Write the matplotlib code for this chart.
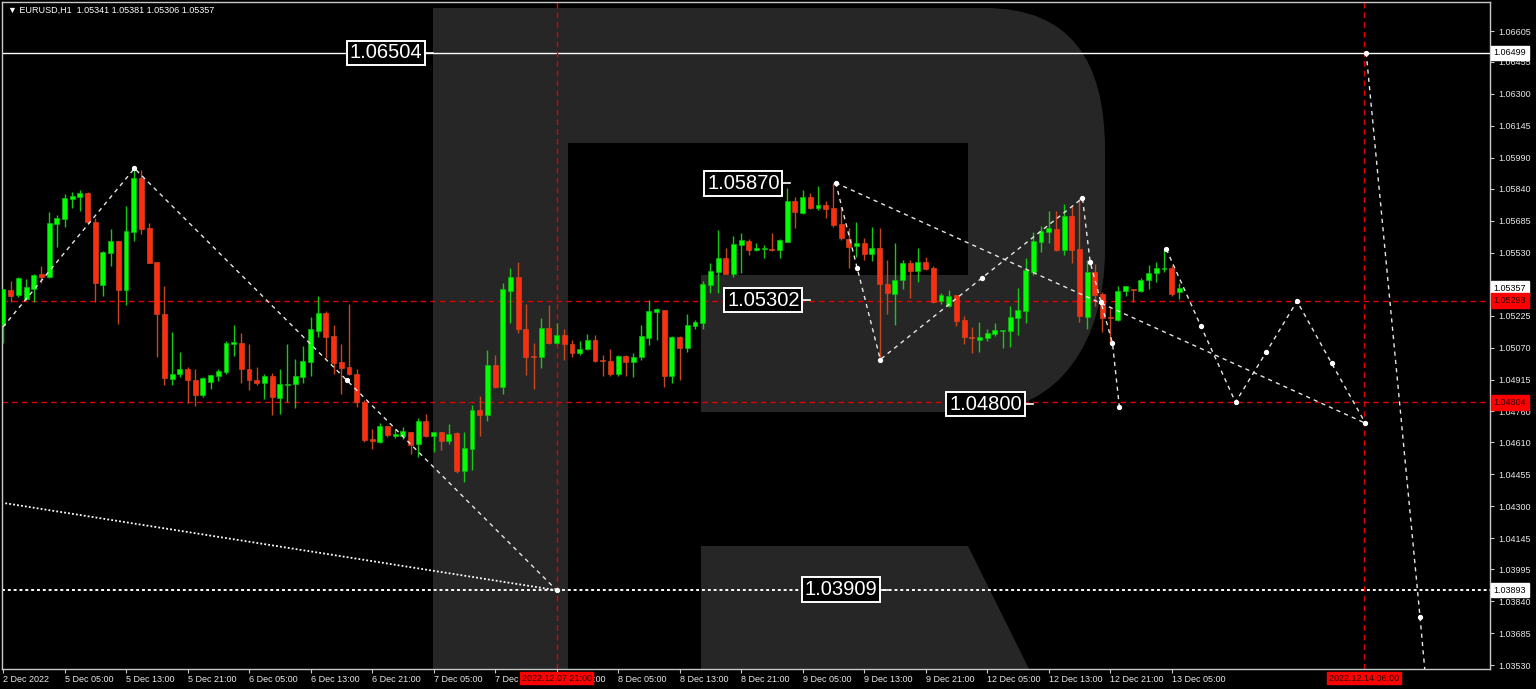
import matplotlib
matplotlib.use("Agg")
import numpy as np
import matplotlib.pyplot as plt
from matplotlib.patches import Polygon, PathPatch
from matplotlib.path import Path

# ---------------- data: EURUSD H1, bar 0 = 2 Dec 2022 21:00 ----------------
opens = [
    1.05179, 1.05348, 1.05327, 1.05305, 1.05352, 1.05426, 1.05413, 1.05669, 1.05693, 1.05790,
    1.05801, 1.05822, 1.05680, 1.05373, 1.05529, 1.05586, 1.05348, 1.05631, 1.05890, 1.05648,
    1.05486, 1.05235, 1.04917, 1.04941, 1.04964, 1.04915, 1.04839, 1.04904, 1.04931, 1.04951,
    1.05088, 1.05093, 1.04965, 1.04915, 1.04896, 1.04931, 1.04823, 1.04888, 1.04891, 1.04928,
    1.05001, 1.05151, 1.05240, 1.05125, 1.04998, 1.04976, 1.04944, 1.04807, 1.04626, 1.04613,
    1.04689, 1.04643, 1.04640, 1.04660, 1.04600, 1.04715, 1.04642, 1.04660, 1.04618, 1.04656,
    1.04472, 1.04580, 1.04766, 1.04744, 1.04985, 1.04880, 1.05345, 1.05410, 1.05159, 1.05028,
    1.05025, 1.05167, 1.05093, 1.05129, 1.05086, 1.05046, 1.05061, 1.05106, 1.05009, 1.05004,
    1.04944, 1.05028, 1.04998, 1.05022, 1.05117, 1.05243, 1.05251, 1.04931, 1.05119, 1.05069,
    1.05175, 1.05187, 1.05373, 1.05437, 1.05505, 1.05425, 1.05567, 1.05588, 1.05542, 1.05546,
    1.05549, 1.05542, 1.05583, 1.05780, 1.05725, 1.05800, 1.05749, 1.05761, 1.05748, 1.05667,
    1.05596, 1.05565, 1.05575, 1.05526, 1.05554, 1.05376, 1.05332, 1.05397, 1.05481, 1.05441,
    1.05486, 1.05457, 1.05297, 1.05272, 1.05324, 1.05203, 1.05122, 1.05109, 1.05117, 1.05135,
    1.05150, 1.05151, 1.05211, 1.05248, 1.05437, 1.05580, 1.05631, 1.05643, 1.05542, 1.05707,
    1.05547, 1.05219, 1.05437, 1.05332, 1.05216, 1.05206, 1.05344, 1.05355, 1.05345, 1.05400,
    1.05434, 1.05449, 1.05454, 1.05341,
]
highs = [
    1.05352, 1.05392, 1.05413, 1.05402, 1.05426, 1.05466, 1.05728, 1.05715, 1.05817, 1.05825,
    1.05833, 1.05825, 1.05696, 1.05538, 1.05644, 1.05588, 1.05756, 1.05939, 1.05931, 1.05675,
    1.05486, 1.05369, 1.05146, 1.05049, 1.04976, 1.04964, 1.04925, 1.04939, 1.04968, 1.05103,
    1.05179, 1.05141, 1.05085, 1.04976, 1.04941, 1.04947, 1.04968, 1.05086, 1.05014, 1.05077,
    1.05216, 1.05319, 1.05247, 1.05179, 1.05085, 1.05280, 1.04964, 1.04815, 1.04677, 1.04705,
    1.04689, 1.04677, 1.04686, 1.04661, 1.04729, 1.04750, 1.04660, 1.04661, 1.04698, 1.04661,
    1.04661, 1.04791, 1.04834, 1.05057, 1.05033, 1.05384, 1.05458, 1.05484, 1.05281, 1.05093,
    1.05211, 1.05276, 1.05190, 1.05158, 1.05109, 1.05103, 1.05135, 1.05133, 1.05033, 1.05062,
    1.05036, 1.05033, 1.05046, 1.05179, 1.05300, 1.05264, 1.05254, 1.05125, 1.05125, 1.05232,
    1.05203, 1.05394, 1.05481, 1.05639, 1.05551, 1.05610, 1.05627, 1.05596, 1.05578, 1.05567,
    1.05627, 1.05596, 1.05846, 1.05798, 1.05833, 1.05821, 1.05854, 1.05782, 1.05869, 1.05753,
    1.05649, 1.05678, 1.05602, 1.05656, 1.05648, 1.05497, 1.05575, 1.05497, 1.05497, 1.05551,
    1.05507, 1.05466, 1.05335, 1.05348, 1.05327, 1.05222, 1.05171, 1.05192, 1.05158, 1.05187,
    1.05154, 1.05271, 1.05360, 1.05502, 1.05631, 1.05659, 1.05733, 1.05732, 1.05766, 1.05756,
    1.05793, 1.05494, 1.05475, 1.05340, 1.05260, 1.05368, 1.05368, 1.05355, 1.05408, 1.05470,
    1.05486, 1.05542, 1.05470, 1.05381,
]
lows = [
    1.05093, 1.05292, 1.05316, 1.05300, 1.05292, 1.05381, 1.05405, 1.05559, 1.05656, 1.05745,
    1.05732, 1.05669, 1.05292, 1.05321, 1.05466, 1.05183, 1.05276, 1.05588, 1.05623, 1.05478,
    1.05025, 1.04888, 1.04888, 1.04928, 1.04799, 1.04786, 1.04831, 1.04868, 1.04907, 1.04941,
    1.05030, 1.04899, 1.04866, 1.04886, 1.04820, 1.04745, 1.04750, 1.04807, 1.04779, 1.04900,
    1.04933, 1.05119, 1.05017, 1.04944, 1.04844, 1.04936, 1.04782, 1.04613, 1.04576, 1.04605,
    1.04634, 1.04629, 1.04626, 1.04553, 1.04540, 1.04637, 1.04564, 1.04572, 1.04601, 1.04462,
    1.04419, 1.04475, 1.04642, 1.04713, 1.04876, 1.04844, 1.05190, 1.05142, 1.04936, 1.04867,
    1.04973, 1.05086, 1.05086, 1.05009, 1.05025, 1.05033, 1.05057, 1.05002, 1.04931, 1.04931,
    1.04933, 1.04931, 1.04928, 1.05009, 1.05082, 1.05106, 1.04880, 1.04896, 1.04915, 1.05049,
    1.05162, 1.05162, 1.05337, 1.05337, 1.05425, 1.05413, 1.05434, 1.05518, 1.05539, 1.05505,
    1.05539, 1.05505, 1.05580, 1.05652, 1.05720, 1.05743, 1.05736, 1.05696, 1.05656, 1.05594,
    1.05454, 1.05510, 1.05494, 1.05491, 1.05009, 1.05235, 1.05179, 1.05353, 1.05311, 1.05386,
    1.05445, 1.05287, 1.05279, 1.05268, 1.05175, 1.05085, 1.05044, 1.05049, 1.05103, 1.05125,
    1.05069, 1.05074, 1.05133, 1.05187, 1.05424, 1.05534, 1.05575, 1.05538, 1.05518, 1.05481,
    1.05195, 1.05162, 1.05271, 1.05146, 1.05090, 1.05200, 1.05319, 1.05292, 1.05340, 1.05356,
    1.05389, 1.05437, 1.05319, 1.05306,
]
closes = [
    1.05352, 1.05321, 1.05408, 1.05365, 1.05424, 1.05411, 1.05675, 1.05696, 1.05795, 1.05804,
    1.05822, 1.05680, 1.05381, 1.05534, 1.05586, 1.05348, 1.05635, 1.05893, 1.05644, 1.05481,
    1.05235, 1.04920, 1.04944, 1.04964, 1.04915, 1.04839, 1.04920, 1.04936, 1.04957, 1.05093,
    1.05095, 1.04965, 1.04915, 1.04896, 1.04931, 1.04828, 1.04891, 1.04892, 1.04931, 1.05004,
    1.05159, 1.05240, 1.05119, 1.04996, 1.04973, 1.04941, 1.04807, 1.04621, 1.04618, 1.04689,
    1.04645, 1.04650, 1.04665, 1.04597, 1.04715, 1.04642, 1.04660, 1.04618, 1.04650, 1.04472,
    1.04585, 1.04766, 1.04744, 1.04985, 1.04880, 1.05353, 1.05410, 1.05159, 1.05025, 1.05025,
    1.05167, 1.05090, 1.05129, 1.05086, 1.05044, 1.05061, 1.05106, 1.05006, 1.05006, 1.04944,
    1.05028, 1.04998, 1.05022, 1.05125, 1.05247, 1.05256, 1.04931, 1.05119, 1.05069, 1.05179,
    1.05192, 1.05378, 1.05442, 1.05505, 1.05426, 1.05570, 1.05591, 1.05542, 1.05555, 1.05551,
    1.05542, 1.05594, 1.05782, 1.05728, 1.05800, 1.05748, 1.05761, 1.05743, 1.05664, 1.05599,
    1.05559, 1.05575, 1.05523, 1.05554, 1.05376, 1.05337, 1.05400, 1.05481, 1.05441, 1.05486,
    1.05453, 1.05292, 1.05327, 1.05321, 1.05198, 1.05122, 1.05116, 1.05122, 1.05141, 1.05154,
    1.05154, 1.05216, 1.05251, 1.05445, 1.05586, 1.05635, 1.05651, 1.05542, 1.05707, 1.05542,
    1.05224, 1.05437, 1.05327, 1.05211, 1.05211, 1.05345, 1.05368, 1.05350, 1.05400, 1.05434,
    1.05458, 1.05454, 1.05332, 1.05357,
]

time_ticks = list(range(0, 153, 8))
time_labels = [
    "2 Dec 2022", "5 Dec 05:00", "5 Dec 13:00", "5 Dec 21:00", "6 Dec 05:00",
    "6 Dec 13:00", "6 Dec 21:00", "7 Dec 05:00", "7 Dec 13:00", "7 Dec 21:00",
    "8 Dec 05:00", "8 Dec 13:00", "8 Dec 21:00", "9 Dec 05:00", "9 Dec 13:00",
    "9 Dec 21:00", "12 Dec 05:00", "12 Dec 13:00", "12 Dec 21:00", "13 Dec 05:00",
]
price_ticks = [1.06605, 1.06455, 1.06300, 1.06145, 1.05990, 1.05840, 1.05685, 1.05530,
               1.05375, 1.05225, 1.05070, 1.04915, 1.04760, 1.04610, 1.04455, 1.04300,
               1.04145, 1.03995, 1.03840, 1.03685, 1.03530]

# forecast paths (bar index, price)
wave_left_x = [0.0, 17.1, 44.7, 72.0]
wave_left_y = [1.05170, 1.05939, 1.04912, 1.03893]
trend_left_x = [0.3, 72.0]
trend_left_y = [1.04315, 1.03893]
trend_right_x = [108.3, 177.2]
trend_right_y = [1.05869, 1.04703]
wave_mid_x = [108.3, 111.1, 114.1, 127.3, 140.4, 141.4, 142.8, 144.3, 145.2]
wave_mid_y = [1.05869, 1.05455, 1.05012, 1.05407, 1.05795, 1.05484, 1.05290, 1.05091, 1.04781]
wave_fc_x = [151.3, 155.8, 160.3, 164.3, 168.3, 172.8, 177.2]
wave_fc_y = [1.05547, 1.05174, 1.04805, 1.05048, 1.05295, 1.04994, 1.04703]
drop_x = [177.3, 184.3, 185.3]
drop_y = [1.06499, 1.03763, 1.03350]

# level labels: text, right edge bar, price
level_text = ["1.06504", "1.05870", "1.05302", "1.04800", "1.03909"]
level_bar = [54.5, 101.0, 103.6, 132.5, 113.7]
level_price = [1.06499, 1.05867, 1.05300, 1.04796, 1.03896]

hlines_red = [1.05298, 1.04804]
vlines_red = [72, 177]

# ---------------- figure ----------------
W, H = 1536, 689
fig = plt.figure(figsize=(W / 100, H / 100), dpi=100, facecolor="black")
ax = fig.add_axes([2 / W, 20 / H, 1488 / W, 667 / H])
ax.set_facecolor("black")
ax.set_xlim(-0.13, 193.4)
ax.set_ylim(1.03511, 1.06746)

small = ["Liberation Sans", "DejaVu Sans"]
big = ["Liberation Sans", "DejaVu Sans"]


def fpx(pts):
    return [(x / W, 1 - y / H) for x, y in pts]


# watermark "R"
wm = "#262626"
stem = Polygon(fpx([(433, 8), (568, 8), (568, 669), (433, 669)]), closed=True,
               transform=fig.transFigure, fc=wm, ec="none", zorder=0.5)
leg = Polygon(fpx([(701, 546), (968, 546), (1029, 669), (701, 669)]), closed=True,
              transform=fig.transFigure, fc=wm, ec="none", zorder=0.5)
bowl_v = fpx([(568, 8), (985, 8), (1070, 8), (1105, 60), (1105, 150), (1105, 250),
              (1105, 340), (1060, 412), (975, 412), (701, 412), (701, 275), (968, 275),
              (968, 143), (568, 143), (568, 8)])
bowl_c = [Path.MOVETO, Path.LINETO, Path.CURVE4, Path.CURVE4, Path.CURVE4, Path.LINETO,
          Path.CURVE4, Path.CURVE4, Path.CURVE4, Path.LINETO, Path.LINETO, Path.LINETO,
          Path.LINETO, Path.LINETO, Path.CLOSEPOLY]
bowl = PathPatch(Path(bowl_v, bowl_c), transform=fig.transFigure, fc=wm, ec="none", zorder=0.5)
for p in (stem, leg, bowl):
    ax.add_patch(p)
    p.set_clip_path(ax.patch)

# levels
ax.axhline(1.06499, color="white", lw=1, zorder=2)
ax.axhline(1.03893, color="white", lw=1.4, ls=(0, (1.5, 1.5)), zorder=2)
for p in hlines_red:
    ax.axhline(p, color="#e00000", lw=1, ls=(0, (4, 3)), zorder=2)
for b in vlines_red:
    ax.axvline(b, color="#e00000", lw=1, ls=(0, (4, 3)), zorder=2)

# candles
o = np.array(opens); h = np.array(highs); l = np.array(lows); c = np.array(closes)
x = np.arange(len(o))
up = c >= o
ax.vlines(x[up], l[up], h[up], color="#14c814", lw=1, zorder=3)
ax.vlines(x[~up], l[~up], h[~up], color="#c8461e", lw=1, zorder=3)
body = np.maximum(np.abs(c - o), 0.00003)
ax.bar(x[up], body[up], bottom=np.minimum(o, c)[up], width=0.64,
       color="#00ff00", edgecolor="#10b810", lw=0.5, zorder=4)
ax.bar(x[~up], body[~up], bottom=np.minimum(o, c)[~up], width=0.64,
       color="#ff2d0f", edgecolor="#c8461e", lw=0.5, zorder=4)

# forecast lines
dash = dict(color="#e6e6e6", lw=1, ls=(0, (3, 3)), zorder=5)
ax.plot(wave_left_x, wave_left_y, **dash)
ax.plot(trend_left_x, trend_left_y, color="white", lw=1.3, ls=(0, (1, 1.2)), zorder=5)
ax.plot(trend_right_x, trend_right_y, **dash)
ax.plot(wave_mid_x, wave_mid_y, **dash)
ax.plot(wave_fc_x, wave_fc_y, **dash)
ax.plot(drop_x, drop_y, **dash)
mk = dict(ls="none", marker="o", ms=2.8, color="white", zorder=6)
ax.plot(wave_left_x[1:], wave_left_y[1:], **mk)
ax.plot(wave_mid_x, wave_mid_y, **mk)
ax.plot(wave_fc_x, wave_fc_y, **mk)
ax.plot(drop_x[:2], drop_y[:2], **mk)

# level labels
for t, b, p in zip(level_text, level_bar, level_price):
    ax.text(b, p, t, ha="right", va="center", fontsize=14.5, color="white", family=big,
            zorder=8, bbox=dict(boxstyle="square,pad=0.14", fc="black", ec="white", lw=1.4))
    ax.plot([b + 0.4, b + 1.4], [p, p], color="white", lw=1.2, zorder=8)

# axes styling
for s in ax.spines.values():
    s.set_color("#c8c8c8")
    s.set_linewidth(1)
ax.yaxis.tick_right()
ax.set_yticks(price_ticks)
ax.set_yticklabels([f"{v:.5f}" for v in price_ticks], family=small)
ax.tick_params(axis="y", colors="#c8c8c8", labelcolor="#e8e8e8", labelsize=6.5,
               length=3, pad=3)
ax.set_xticks(time_ticks)
ax.set_xticklabels(time_labels, ha="left", family=small)
ax.tick_params(axis="x", colors="#c8c8c8", labelcolor="#e8e8e8", labelsize=6.5,
               length=3, pad=1)

# right-side price boxes
yt = ax.get_yaxis_transform()
for p, fc, tc in [(1.06499, "white", "black"), (1.05357, "white", "black"),
                  (1.05298, "#ff0000", "#300000"), (1.04804, "#ff0000", "#300000"),
                  (1.03893, "white", "black")]:
    ax.text(1.0025, p, f"{p:.5f}", transform=yt, ha="left", va="center", fontsize=6.5,
            color=tc, family=small, clip_on=False, zorder=10,
            bbox=dict(boxstyle="square,pad=0.3", fc=fc, ec=fc))

# bottom red time boxes
xt = ax.get_xaxis_transform()
for b, t in zip(vlines_red, ["2022.12.07 21:00", "2022.12.14 06:00"]):
    ax.text(b, -0.0135, t, transform=xt, ha="center", va="center", fontsize=6.5,
            color="#300000", family=small, clip_on=False, zorder=10,
            bbox=dict(boxstyle="square,pad=0.2", fc="#ff0000", ec="#ff0000"))

# header
fig.text(8 / W, 1 - 10 / H, "\u25BC EURUSD,H1  1.05341 1.05381 1.05306 1.05357",
         fontsize=6.5, color="white", va="center", family=small)

fig.savefig("out.png", dpi=100, facecolor="black")
